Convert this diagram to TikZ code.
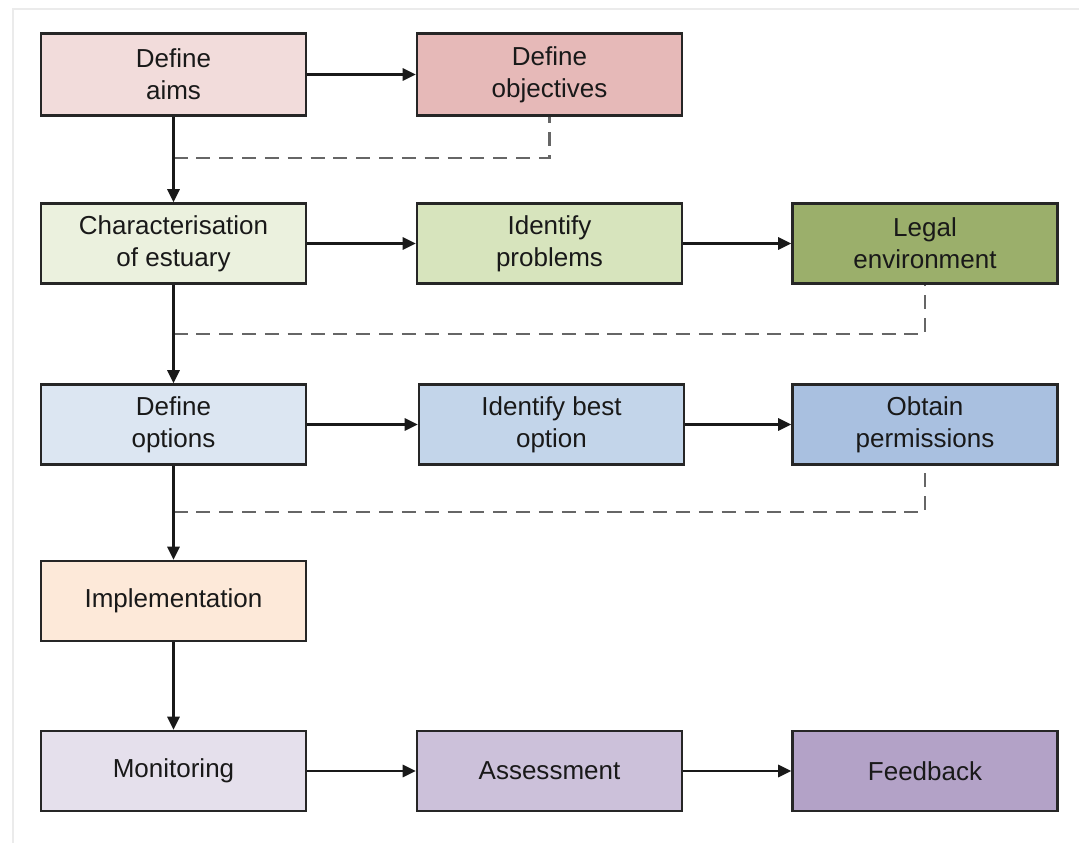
\documentclass[tikz,border=0pt]{standalone}
\usepackage{fontspec}
\setmainfont{Liberation Sans}
\usepackage{xcolor}
\usetikzlibrary{arrows.meta}

% box colours
\definecolor{aimsfill}{HTML}{F2DCDB}
\definecolor{objfill}{HTML}{E6B9B8}
\definecolor{charfill}{HTML}{EBF1DE}
\definecolor{probfill}{HTML}{D7E4BD}
\definecolor{legalfill}{HTML}{9BAF6B}
\definecolor{optfill}{HTML}{DCE6F2}
\definecolor{bestfill}{HTML}{C3D5EA}
\definecolor{permfill}{HTML}{A9C0E0}
\definecolor{implfill}{HTML}{FDE9D9}
\definecolor{monfill}{HTML}{E5E0EC}
\definecolor{assfill}{HTML}{CCC1DA}
\definecolor{feedfill}{HTML}{B3A2C7}

\tikzset{
    stagebox/.style={draw=black!85, line width=1.4pt, minimum width=5.3cm, minimum height=1.6cm,
        align=center, font=\fontsize{14.8}{18}\selectfont, text=black!90, inner sep=2pt},
    flow/.style={-{Triangle[length=7.5pt,width=7pt]}, line width=1.3pt, draw=black!90},
    feedback line/.style={draw=black!60, line width=1.3pt, dash pattern=on 8pt off 5pt}
}

\begin{document}
\begin{tikzpicture}[x=0.02cm, y=-0.02cm]

    % ==========================================
    % Page and frame
    % ==========================================
    \useasboundingbox (0,0) rectangle (1079,843);
    \fill[white] (0,0) rectangle (1079,843);
    \draw[black!8, line width=0.8pt] (13,843) -- (13,9) -- (1079,9);

    % ==========================================
    % Row 1 - aims and objectives
    % ==========================================
    \node[stagebox, fill=aimsfill, minimum height=1.64cm] (aims) at (173.5,74.5) {Define\\aims};
    \node[stagebox, fill=objfill, minimum height=1.64cm] (obj) at (549.5,74.5) {Define\\objectives};

    % ==========================================
    % Row 2 - estuary
    % ==========================================
    \node[stagebox, fill=charfill] (char) at (173.5,243.5) {Characterisation\\of estuary};
    \node[stagebox, fill=probfill] (prob) at (549.5,243.5) {Identify\\problems};
    \node[stagebox, fill=legalfill] (legal) at (925,243.5) {Legal\\environment};

    % ==========================================
    % Row 3 - options
    % ==========================================
    \node[stagebox, fill=optfill] (opt) at (173.5,424.5) {Define\\options};
    \node[stagebox, fill=bestfill] (best) at (551.5,424.5) {Identify best\\option};
    \node[stagebox, fill=permfill] (perm) at (925,424.5) {Obtain\\permissions};

    % ==========================================
    % Rows 4 and 5
    % ==========================================
    \node[stagebox, fill=implfill] (impl) at (173.5,601) {Implementation};
    \node[stagebox, fill=monfill] (mon) at (173.5,771) {Monitoring};
    \node[stagebox, fill=assfill] (ass) at (549.5,771) {Assessment};
    \node[stagebox, fill=feedfill] (feed) at (925,771) {Feedback};

    % ==========================================
    % Feedback (dashed) lines
    % ==========================================
    \coordinate (j1) at (173.5,158);
    \coordinate (j2) at (173.5,334);
    \coordinate (j3) at (173.5,512);
    \draw[feedback line] (j1) -| (obj.south);
    \draw[feedback line] (j2) -| (legal.south);
    \draw[feedback line] (j3) -| (perm.south);

    % ==========================================
    % Flow arrows
    % ==========================================
    \draw[flow] (aims) -- (obj);
    \draw[flow] (char) -- (prob);
    \draw[flow] (prob) -- (legal);
    \draw[flow] (opt) -- (best);
    \draw[flow] (best) -- (perm);
    \draw[flow] (mon) -- (ass);
    \draw[flow] (ass) -- (feed);

    \draw[flow] (aims) -- (char);
    \draw[flow] (char) -- (opt);
    \draw[flow] (opt) -- (impl);
    \draw[flow] (impl) -- (mon);

\end{tikzpicture}
\end{document}
